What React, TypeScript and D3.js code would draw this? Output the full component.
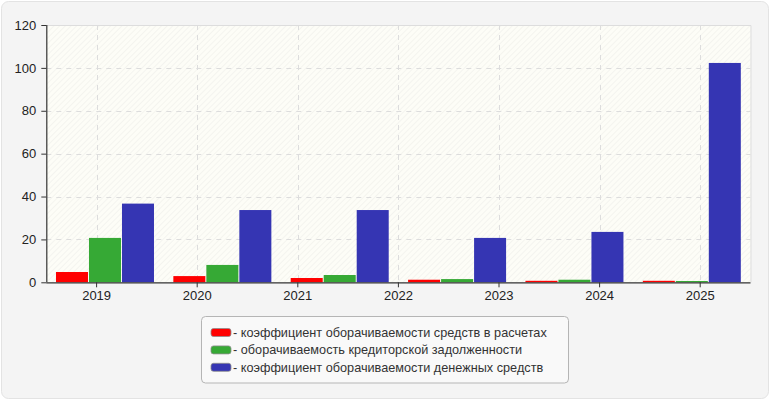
import { useEffect, useRef } from 'react'
import * as d3 from 'd3'

// tick labels on the x axis (7 of them, though only 6 groups of bars are drawn)
const tickLabels = ['2019', '2020', '2021', '2022', '2023', '2024', '2025']

const receivablesTurnover = [4.8, 2.9, 2.0, 1.2, 0.7, 0.7]
const payablesTurnover = [20.7, 8.1, 3.4, 1.5, 1.2, 0.6]
const cashTurnover = [36.7, 33.7, 33.7, 20.7, 23.5, 102.3]

const seriesNames = [
  'коэффициент оборачиваемости средств в расчетах',
  'оборачиваемость кредиторской задолженности',
  'коэффициент оборачиваемости денежных средств'
]
const seriesColors = ['#ff0000', '#36a935', '#3535b3']
const yTicks = [0, 20, 40, 60, 80, 100, 120]

const WIDTH = 770
const HEIGHT = 400
const margin = { top: 25, right: 19.5, bottom: 117.7, left: 46.3 }
const FONT = '"Liberation Sans", Arial, sans-serif'

export default function App() {
  const svgRef = useRef<SVGSVGElement>(null)

  useEffect(() => {
    if (!svgRef.current) return
    const svg = d3.select(svgRef.current)
    svg.selectAll('*').remove()

    const x0 = margin.left
    const x1 = WIDTH - margin.right
    const y0 = HEIGHT - margin.bottom
    const y1 = margin.top

    const values = [receivablesTurnover, payablesTurnover, cashTurnover]
    const groups = d3.range(cashTurnover.length).map(String)

    const yScale = d3.scaleLinear().domain([0, 120]).range([y0, y1])
    const tickScale = d3.scaleBand().domain(tickLabels).range([x0, x1])
    const groupScale = d3.scaleBand()
      .domain(groups)
      .range([x0, x1])
      .paddingInner(0.165)
      .paddingOuter(0.0825)
    const barScale = d3.scaleBand()
      .domain(['0', '1', '2'])
      .range([0, groupScale.bandwidth()])
      .paddingInner(0.03)

    // outer panel
    svg.append('rect')
      .attr('x', 1.5).attr('y', 1.5)
      .attr('width', WIDTH - 3).attr('height', HEIGHT - 3)
      .attr('rx', 7)
      .attr('fill', '#f4f4f4')
      .attr('stroke', '#e3e3e3')

    // hatched plot background
    const defs = svg.append('defs')
    const pattern = defs.append('pattern')
      .attr('id', 'hatch')
      .attr('patternUnits', 'userSpaceOnUse')
      .attr('width', 4).attr('height', 4)
      .attr('patternTransform', 'rotate(45)')
    pattern.append('rect').attr('width', 4).attr('height', 4).attr('fill', '#fdfdf7')
    pattern.append('line')
      .attr('x1', 0).attr('y1', 0).attr('x2', 0).attr('y2', 4)
      .attr('stroke', '#efefeb').attr('stroke-width', 1.2)

    svg.append('rect')
      .attr('x', x0).attr('y', y1)
      .attr('width', x1 - x0).attr('height', y0 - y1)
      .attr('fill', 'url(#hatch)')

    // plot border top/right
    svg.append('path')
      .attr('d', `M${x0},${y1 + 0.5}H${x1 + 0.5}V${y0}`)
      .attr('fill', 'none')
      .attr('stroke', '#dddddd')

    // grid
    const grid = svg.append('g')
      .attr('stroke', '#dddddd')
      .attr('stroke-dasharray', '5,5')
    grid.selectAll('line.h')
      .data(yTicks.filter(t => t > 0 && t < 120))
      .enter()
      .append('line')
      .attr('x1', x0).attr('x2', x1)
      .attr('y1', d => Math.round(yScale(d)) + 0.5)
      .attr('y2', d => Math.round(yScale(d)) + 0.5)
    grid.selectAll('line.v')
      .data(tickLabels)
      .enter()
      .append('line')
      .attr('x1', d => Math.round((tickScale(d) || 0) + tickScale.bandwidth() / 2) + 0.5)
      .attr('x2', d => Math.round((tickScale(d) || 0) + tickScale.bandwidth() / 2) + 0.5)
      .attr('y1', y1).attr('y2', y0)

    // bars
    values.forEach((series, si) => {
      svg.append('g')
        .selectAll('rect')
        .data(series)
        .enter()
        .append('rect')
        .attr('x', (_, i) => (groupScale(String(i)) || 0) + (barScale(String(si)) || 0))
        .attr('y', d => yScale(d))
        .attr('width', barScale.bandwidth())
        .attr('height', d => y0 - yScale(d))
        .attr('fill', seriesColors[si])
    })

    // axes
    const yAxis = d3.axisLeft(yScale).tickValues(yTicks).tickSize(5).tickPadding(5)
    const gy = svg.append('g')
      .attr('transform', `translate(${x0},0)`)
      .call(yAxis)
    const xAxis = d3.axisBottom(tickScale).tickSize(5).tickPadding(3)
    const gx = svg.append('g')
      .attr('transform', `translate(0,${y0})`)
      .call(xAxis)

    ;[gx, gy].forEach(g => {
      g.select('.domain').attr('stroke', '#333').attr('stroke-width', 1.2)
      g.selectAll('.tick line').attr('stroke', '#333')
      g.selectAll('.tick text')
        .attr('fill', '#222')
        .style('font-family', FONT)
        .style('font-size', '13px')
    })
    gx.select('.domain').attr('d', `M${x0},0.5H${x1}`)
    gy.select('.domain').attr('d', `M0.5,${y0}V${y1}`)

    // legend
    const legend = svg.append('g').attr('transform', 'translate(201.5,316.5)')
    legend.append('rect')
      .attr('width', 367).attr('height', 66.5)
      .attr('rx', 4)
      .attr('fill', '#f9f9f9')
      .attr('stroke', '#b5b5b5')
    seriesNames.forEach((name, i) => {
      const row = legend.append('g').attr('transform', `translate(0,${16 + i * 17.4})`)
      row.append('rect')
        .attr('x', 9.5).attr('y', -4)
        .attr('width', 20).attr('height', 8)
        .attr('rx', 2.5)
        .attr('fill', seriesColors[i])
        .attr('stroke', '#8d8d8d')
        .attr('stroke-width', 0.8)
      row.append('text')
        .attr('x', 31.5).attr('y', 4.5)
        .attr('fill', '#333')
        .style('font-family', FONT)
        .style('font-size', '12.7px')
        .text(`- ${name}`)
    })
  }, [])

  return (
    <svg
      ref={svgRef}
      width={WIDTH}
      height={HEIGHT}
      style={{ position: 'absolute', left: 0, top: 0 }}
    />
  )
}
